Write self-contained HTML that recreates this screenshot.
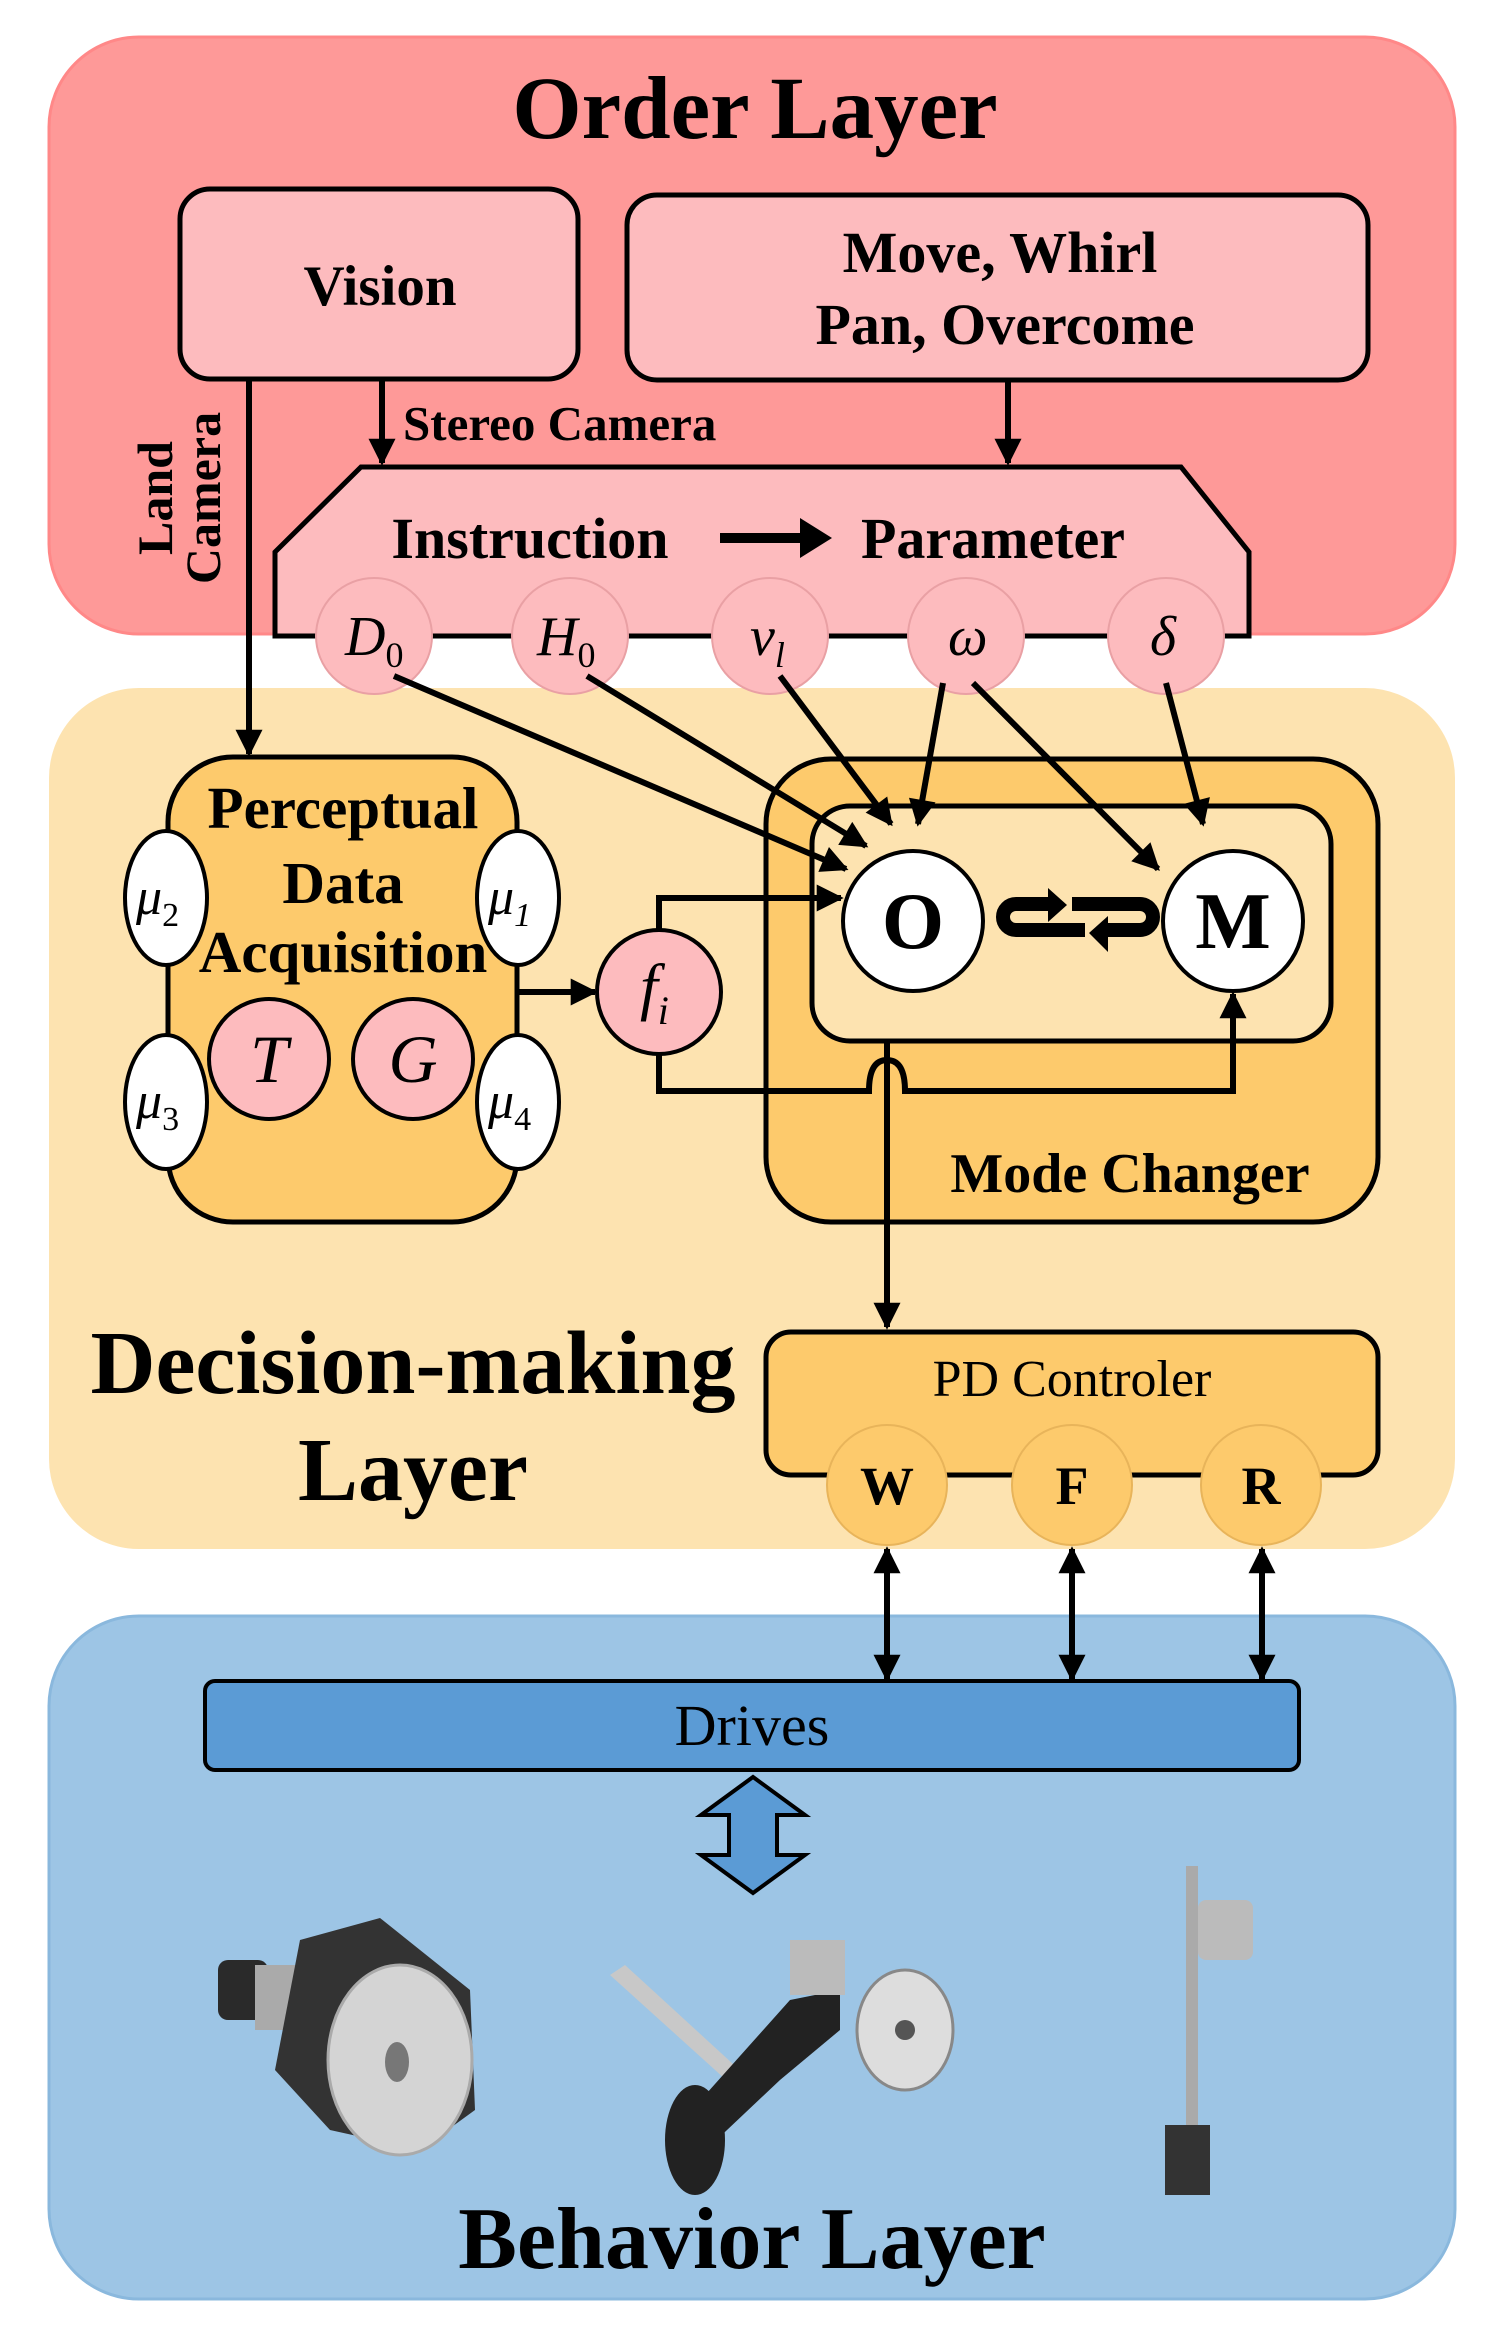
<!DOCTYPE html>
<html><head><meta charset="utf-8"><style>html,body{margin:0;padding:0;background:#fff}svg{display:block}text{font-family:"Liberation Serif",serif}</style></head>
<body>
<svg width="1507" height="2339" viewBox="0 0 1507 2339" xmlns="http://www.w3.org/2000/svg">
<defs>
<marker id="ah" viewBox="0 0 10 10" refX="9" refY="5" markerWidth="6" markerHeight="4.5" orient="auto-start-reverse" markerUnits="strokeWidth"><path d="M0,0 L10,5 L0,10 z" fill="#000"/></marker>
</defs>
<!-- layers -->
<rect x="49" y="37" width="1406" height="597" rx="90" fill="#fe9998" stroke="#f88" stroke-width="3"/>
<rect x="49" y="688" width="1406" height="861" rx="90" fill="#fde3b0"/>
<rect x="49" y="1616" width="1406" height="683" rx="90" fill="#9dc5e5" stroke="#8ab8dd" stroke-width="3"/>

<text x="755" y="138" font-size="89" font-weight="bold" text-anchor="middle">Order Layer</text>
<rect x="180" y="189" width="398" height="190" rx="30" fill="#fdbbbe" stroke="#000" stroke-width="5"/>
<text x="380" y="305" font-size="57" font-weight="bold" text-anchor="middle">Vision</text>
<rect x="627" y="195" width="741" height="185" rx="30" fill="#fdbbbe" stroke="#000" stroke-width="5"/>
<text x="1000" y="272" font-size="58" font-weight="bold" text-anchor="middle">Move, Whirl</text>
<text x="1005" y="344" font-size="58" font-weight="bold" text-anchor="middle">Pan, Overcome</text>

<line x1="382" y1="379" x2="382" y2="463" stroke="#000" stroke-width="6" marker-end="url(#ah)"/>
<line x1="1008" y1="380" x2="1008" y2="463" stroke="#000" stroke-width="6" marker-end="url(#ah)"/>
<text x="403" y="440" font-size="49" font-weight="bold">Stereo Camera</text>
<text transform="translate(172,498) rotate(-90)" font-size="50" font-weight="bold" text-anchor="middle">Land</text>
<text transform="translate(220,498) rotate(-90)" font-size="50" font-weight="bold" text-anchor="middle">Camera</text>
<line x1="249" y1="379" x2="249" y2="754" stroke="#000" stroke-width="6" marker-end="url(#ah)"/>

<!-- trapezoid -->
<path d="M361,467 L1181,467 L1249,552 L1249,636 L275,636 L275,552 Z" fill="#fdbbbe" stroke="#000" stroke-width="5"/>
<text x="530" y="558" font-size="58" font-weight="bold" text-anchor="middle">Instruction</text>
<line x1="720" y1="538" x2="806" y2="538" stroke="#000" stroke-width="10"/>
<path d="M800,518 L832,538 L800,558 Z" fill="#000"/>
<text x="993" y="558" font-size="58" font-weight="bold" text-anchor="middle">Parameter</text>
<g fill="#fdbbbe" stroke="#e9a0a4" stroke-width="2">
<ellipse cx="374" cy="636" rx="58" ry="58"/><ellipse cx="570" cy="636" rx="58" ry="58"/><ellipse cx="770" cy="636" rx="58" ry="58"/><ellipse cx="966" cy="636" rx="58" ry="58"/><ellipse cx="1166" cy="636" rx="58" ry="58"/>
</g>
<g font-size="56" font-style="italic">
<text x="345" y="655">D<tspan font-size="36" font-style="normal" dy="12">0</tspan></text>
<text x="537" y="655">H<tspan font-size="36" font-style="normal" dy="12">0</tspan></text>
<text x="750" y="655">v<tspan font-size="36" dy="12">l</tspan></text>
<text x="948" y="655">ω</text>
<text x="1150" y="655">δ</text>
</g>

<!-- perceptual -->
<rect x="168" y="757" width="349" height="465" rx="65" fill="#fdca6c" stroke="#000" stroke-width="5"/>
<g font-size="59" font-weight="bold" text-anchor="middle">
<text x="343" y="828">Perceptual</text><text x="343" y="903">Data</text><text x="343" y="972">Acquisition</text>
</g>
<g fill="#fff" stroke="#000" stroke-width="4">
<ellipse cx="166" cy="898" rx="41" ry="67"/><ellipse cx="166" cy="1102" rx="41" ry="67"/><ellipse cx="518" cy="898" rx="41" ry="67"/><ellipse cx="518" cy="1102" rx="41" ry="67"/>
</g>
<g font-size="52" font-style="italic">
<text x="136" y="914">μ<tspan font-size="34" font-style="normal" dy="12">2</tspan></text>
<text x="136" y="1118">μ<tspan font-size="34" font-style="normal" dy="12">3</tspan></text>
<text x="488" y="914">μ<tspan font-size="34" dy="12">1</tspan></text>
<text x="488" y="1118">μ<tspan font-size="34" font-style="normal" dy="12">4</tspan></text>
</g>
<g fill="#fdbbbe" stroke="#000" stroke-width="4"><circle cx="269" cy="1059" r="60"/><circle cx="413" cy="1059" r="60"/><circle cx="659" cy="992" r="62"/></g>
<text x="269" y="1082" font-size="68" font-style="italic" text-anchor="middle">T</text>
<text x="413" y="1082" font-size="68" font-style="italic" text-anchor="middle">G</text>
<text x="640" y="1008" font-size="64" font-style="italic">f<tspan font-size="40" dy="16">i</tspan></text>
<line x1="517" y1="992" x2="595" y2="992" stroke="#000" stroke-width="6" marker-end="url(#ah)"/>

<!-- mode changer -->
<rect x="766" y="759" width="612" height="463" rx="65" fill="#fdca6c" stroke="#000" stroke-width="5"/>
<rect x="812" y="806" width="519" height="235" rx="38" fill="#fde3b0" stroke="#000" stroke-width="5"/>
<text x="1130" y="1192" font-size="56" font-weight="bold" text-anchor="middle">Mode Changer</text>
<circle cx="913" cy="921" r="70" fill="#fff" stroke="#000" stroke-width="4"/>
<circle cx="1233" cy="921" r="70" fill="#fff" stroke="#000" stroke-width="4"/>
<text x="913" y="948" font-size="80" font-weight="bold" text-anchor="middle">O</text>
<text x="1233" y="948" font-size="80" font-weight="bold" text-anchor="middle">M</text>
<path d="M1050,904 L1016,904 A13,13 0 0 0 1016,930 L1085,930" fill="none" stroke="#000" stroke-width="14"/>
<path d="M1048,888 L1067,905 L1048,922 Z" fill="#000"/>
<path d="M1072,904 L1140,904 A13,13 0 0 1 1140,930 L1106,930" fill="none" stroke="#000" stroke-width="14"/>
<path d="M1108,916 L1089,933 L1108,952 Z" fill="#000"/>

<!-- fi feedback -->
<polyline points="659,930 659,898 841,898" fill="none" stroke="#000" stroke-width="6" marker-end="url(#ah)"/>
<path d="M659,1054 L659,1091 L869,1091 Q869,1060 887,1060 Q905,1060 905,1091 L1233,1091 L1233,994" fill="none" stroke="#000" stroke-width="6" marker-end="url(#ah)"/>
<line x1="887" y1="1041" x2="887" y2="1327" stroke="#000" stroke-width="6" marker-end="url(#ah)"/>

<!-- param lines -->
<g stroke="#000" stroke-width="6" marker-end="url(#ah)">
<line x1="394" y1="676" x2="846" y2="869"/>
<line x1="587" y1="676" x2="866" y2="846"/>
<line x1="780" y1="676" x2="891" y2="824"/>
<line x1="943" y1="683" x2="918" y2="824"/>
<line x1="973" y1="683" x2="1158" y2="869"/>
<line x1="1166" y1="683" x2="1203" y2="824"/>
</g>

<!-- PD -->
<rect x="766" y="1332" width="612" height="143" rx="25" fill="#fdca6c" stroke="#000" stroke-width="5"/>
<text x="1072" y="1396" font-size="52" text-anchor="middle">PD Controler</text>
<g fill="#fdca6c" stroke="#e8b45a" stroke-width="2"><circle cx="887" cy="1485" r="60"/><circle cx="1072" cy="1485" r="60"/><circle cx="1261" cy="1485" r="60"/></g>
<g font-size="54" font-weight="bold" text-anchor="middle"><text x="887" y="1504">W</text><text x="1072" y="1504">F</text><text x="1261" y="1504">R</text></g>
<g font-size="90" font-weight="bold" text-anchor="middle"><text x="413" y="1393">Decision-making</text><text x="413" y="1500">Layer</text></g>

<!-- double arrows -->
<g stroke="#000" stroke-width="6" marker-end="url(#ah)" marker-start="url(#ah)">
<line x1="887" y1="1549" x2="887" y2="1679"/><line x1="1072" y1="1549" x2="1072" y2="1679"/><line x1="1262" y1="1549" x2="1262" y2="1679"/>
</g>
<rect x="205" y="1681" width="1094" height="89" rx="10" fill="#5b9bd5" stroke="#000" stroke-width="4"/>
<text x="752" y="1745" font-size="58" text-anchor="middle">Drives</text>
<path d="M753,1777 L805,1815 L777,1815 L777,1855 L805,1855 L753,1893 L701,1855 L729,1855 L729,1815 L701,1815 Z" fill="#5b9bd5" stroke="#000" stroke-width="4"/>

<!-- robot pictures (approximate) -->
<g>
<rect x="218" y="1960" width="50" height="60" rx="10" fill="#2a2a2a"/>
<rect x="255" y="1965" width="40" height="65" fill="#aaa"/>
<path d="M300,1940 L380,1918 L470,1990 L475,2110 L420,2150 L330,2130 L275,2070 Z" fill="#333"/>
<ellipse cx="400" cy="2060" rx="72" ry="95" fill="#d4d4d4" stroke="#aaa" stroke-width="3"/>
<ellipse cx="397" cy="2062" rx="12" ry="20" fill="#777"/>
</g>
<g>
<path d="M610,1975 L625,1965 L745,2075 L735,2088 Z" fill="#c8c8c8"/>
<path d="M665,2140 L790,2000 L840,1990 L840,2030 L780,2080 L690,2165 Z" fill="#222"/>
<ellipse cx="695" cy="2140" rx="30" ry="55" fill="#222"/>
<rect x="790" y="1940" width="55" height="55" fill="#bbb"/>
<ellipse cx="905" cy="2030" rx="48" ry="60" fill="#ddd" stroke="#888" stroke-width="3"/>
<circle cx="905" cy="2030" r="10" fill="#555"/>
</g>
<g>
<rect x="1186" y="1866" width="12" height="260" fill="#aaa"/>
<rect x="1198" y="1900" width="55" height="60" rx="8" fill="#bbb"/>
<rect x="1165" y="2125" width="45" height="70" fill="#333"/>
</g>
<text x="752" y="2268" font-size="88" font-weight="bold" text-anchor="middle">Behavior Layer</text>
</svg>
</body></html>
